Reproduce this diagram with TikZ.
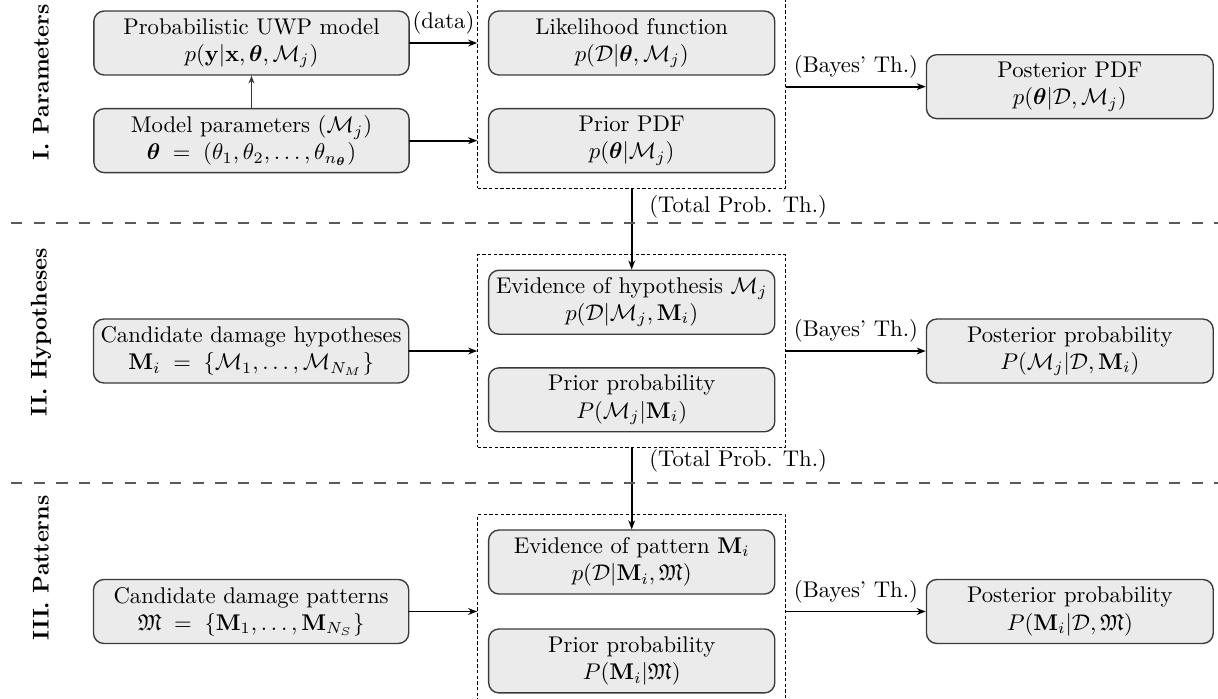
\documentclass[tikz,border=0pt]{standalone}
\usepackage{amsmath,amssymb}
\usepackage{xcolor}
\usepackage{tikz}
\usetikzlibrary{arrows.meta,positioning,calc,fit}
\definecolor{boxfill}{HTML}{EBEBEB}
\definecolor{boxline}{HTML}{3A3A3A}
\definecolor{sepline}{HTML}{5A5A5A}
\tikzset{
    every picture/.style={line cap=round,line join=round},
    probbox/.style={draw=boxline,fill=boxfill,line width=0.6pt,rounded corners=1.6mm,
      minimum height=9.9mm,inner sep=1pt,align=center,font=\normalsize},
    leftbox/.style={probbox,minimum width=48.8mm},
    midbox/.style={probbox,minimum width=44.3mm},
    rightbox/.style={probbox,minimum width=44.4mm},
    groupbox/.style={draw=black,line width=0.45pt,dash pattern=on 1.5pt off 1pt,
      line cap=butt,inner xsep=4.5pt,inner ysep=6.5pt},
    flowarrow/.style={-{Stealth[length=4pt,width=3pt]},draw=black,line width=0.8pt},
    thinarrow/.style={-{Stealth[length=3.5pt,width=2.6pt]},draw=boxline,line width=0.5pt},
    levelsep/.style={draw=sepline,line width=0.5pt,dash pattern=on 5pt off 5pt,line cap=butt},
    levellabel/.style={rotate=90,font=\bfseries}
}

\begin{document}
\begin{tikzpicture}
  \useasboundingbox (0,0) rectangle (18.855,-10.82);
  % level I
  \node[leftbox] (uwp) at (3.893,-0.666) {Probabilistic UWP model\\$p(\mathbf{y}|\mathbf{x},\boldsymbol{\theta},\mathcal{M}_j)$};
  \node[leftbox,below=5mm of uwp] (params) {Model parameters $(\mathcal{M}_j)$\\$\boldsymbol{\theta}\;=\;\left(\theta_1,\theta_2,\ldots,\theta_{n_{\boldsymbol{\theta}}}\right)$};
  \node[midbox,right=12.1mm of uwp] (lik) {Likelihood function\\$p(\mathcal{D}|\boldsymbol{\theta},\mathcal{M}_j)$};
  \node[midbox,below=5mm of lik] (prior1) {Prior PDF\\$p(\boldsymbol{\theta}|\mathcal{M}_j)$};
  \node[groupbox,fit=(lik)(prior1)] (fit1) {};
  \node[rightbox,anchor=west] (post1) at ([xshift=21.6mm,yshift=0.8mm]fit1.east) {Posterior PDF\\$p(\boldsymbol{\theta}|\mathcal{D},\mathcal{M}_j)$};
  % level II
  \node[midbox,below=14.9mm of prior1] (ev2) {Evidence of hypothesis $\mathcal{M}_j$\\$p(\mathcal{D}|\mathcal{M}_j,\mathbf{M}_i)$};
  \node[midbox,below=5mm of ev2] (prior2) {Prior probability\\$P(\mathcal{M}_j|\mathbf{M}_i)$};
  \node[groupbox,fit=(ev2)(prior2)] (fit2) {};
  \node[leftbox,left=10.5mm of fit2] (cand2) {Candidate damage hypotheses\\$\mathbf{M}_i\;=\;\{\mathcal{M}_1,\ldots,\mathcal{M}_{N_M}\}$};
  \node[rightbox,right=21.6mm of fit2] (post2) {Posterior probability\\$P(\mathcal{M}_j|\mathcal{D},\mathbf{M}_i)$};
  % level III
  \node[midbox,below=15mm of prior2] (ev3) {Evidence of pattern $\mathbf{M}_i$\\$p(\mathcal{D}|\mathbf{M}_i,\mathfrak{M})$};
  \node[midbox,below=5.2mm of ev3] (prior3) {Prior probability\\$P(\mathbf{M}_i|\mathfrak{M})$};
  \node[groupbox,fit=(ev3)(prior3)] (fit3) {};
  \node[leftbox,left=10.5mm of fit3] (cand3) {Candidate damage patterns\\$\mathfrak{M}\;=\;\{\mathbf{M}_1,\ldots,\mathbf{M}_{N_S}\}$};
  \node[rightbox,right=21.6mm of fit3] (post3) {Posterior probability\\$P(\mathbf{M}_i|\mathcal{D},\mathfrak{M})$};
  % connectors
  \draw[thinarrow] (params) -- (uwp);
  \draw[flowarrow] (uwp.east) -- (uwp.east -| fit1.west) node[midway,above] {(data)};
  \draw[flowarrow] (params.east) -- (params.east -| fit1.west);
  \draw[flowarrow] (post1.west -| fit1.east) -- (post1) node[midway,above] {(Bayes' Th.)};
  \draw[flowarrow] (fit1.south) -- (ev2.north) node[pos=0.22,right=4pt] {(Total Prob. Th.)};
  \draw[flowarrow] (cand2) -- (fit2);
  \draw[flowarrow] (fit2) -- (post2) node[midway,above] {(Bayes' Th.)};
  \draw[flowarrow] (fit2.south) -- (ev3.north) node[pos=0.16,right=4pt] {(Total Prob. Th.)};
  \draw[flowarrow] (cand3) -- (fit3);
  \draw[flowarrow] (fit3) -- (post3) node[midway,above] {(Bayes' Th.)};
  % levels
  \draw[levelsep] (0.17,-3.452) -- (18.855,-3.452);
  \draw[levelsep] (0.17,-7.477) -- (18.855,-7.477);
  \node[levellabel] (lvl1) at (0.635,-1.27) {I. Parameters};
  \node[levellabel] (lvl2) at (0.635,-5.14) {II. Hypotheses};
  \node[levellabel] (lvl3) at (0.635,-8.79) {III. Patterns};
\end{tikzpicture}
\end{document}
